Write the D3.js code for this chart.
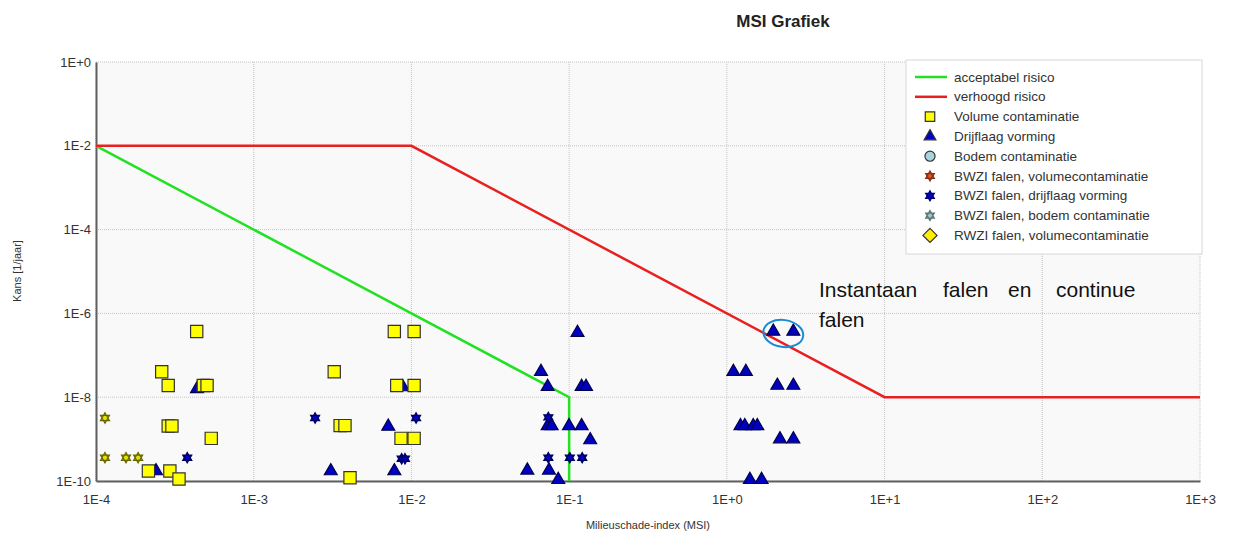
<!DOCTYPE html>
<html>
<head>
<meta charset="utf-8">
<script src="https://cdn.jsdelivr.net/npm/d3@7"></script>
<style>
  body { margin: 0; background: #fff; font-family: "Liberation Sans", Arial, sans-serif; }
  svg text { font-family: "Liberation Sans", Arial, sans-serif; }
</style>
</head>
<body>
<svg id="chart"></svg>
<script>
// data (MSI, kans per jaar)
const xTicks = [-4, -3, -2, -1, 0, 1, 2, 3];
const yTicks = [0, -2, -4, -6, -8, -10];

const acceptabel = [[1e-4, 1e-2], [1e-2, 1e-6], [1e-1, 1e-8], [1e-1, 1e-10]];
const verhoogd = [[1e-4, 1e-2], [1e-2, 1e-2], [1e1, 1e-8], [1e3, 1e-8]];

const volume = [
  [4.35e-4, 3.7e-7], [2.61e-4, 4.06e-8], [2.87e-4, 1.9e-8], [4.79e-4, 1.9e-8], [5.06e-4, 1.9e-8],
  [2.87e-4, 2.06e-9], [3.03e-4, 2.06e-9], [5.38e-4, 1.04e-9], [2.15e-4, 1.73e-10], [2.94e-4, 1.73e-10],
  [3.36e-4, 1.12e-10], [7.79e-3, 3.7e-7], [1.04e-2, 3.7e-7], [3.24e-3, 4.06e-8], [8.07e-3, 1.9e-8],
  [1.04e-2, 1.9e-8], [3.53e-3, 2.1e-9], [3.79e-3, 2.1e-9], [8.59e-3, 1.04e-9], [1.04e-2, 1.04e-9],
  [4.08e-3, 1.2e-10]
];

const drijflaag = [
  [4.37e-4, 1.57e-8], [2.4e-4, 1.73e-10], [3.08e-3, 1.73e-10], [7.13e-3, 2.0e-9], [8.81e-3, 1.75e-8],
  [7.79e-3, 1.73e-10], [0.113, 3.46e-7], [6.63e-2, 4.06e-8], [7.31e-2, 1.78e-8], [0.120, 1.78e-8],
  [0.128, 1.78e-8], [7.31e-2, 2.06e-9], [7.75e-2, 2.06e-9], [9.98e-2, 2.06e-9], [0.120, 2.06e-9],
  [0.136, 9.5e-10], [5.43e-2, 1.8e-10], [7.45e-2, 1.8e-10], [8.53e-2, 1.07e-10],
  [1.97, 3.7e-7], [2.64, 3.7e-7], [1.10, 4.06e-8], [1.32, 4.06e-8], [2.09, 1.9e-8], [2.64, 1.9e-8],
  [1.22, 2.06e-9], [1.30, 2.06e-9], [1.47, 2.06e-9], [1.56, 2.06e-9], [2.17, 1.0e-9], [2.64, 1.0e-9],
  [1.40, 1.07e-10], [1.66, 1.07e-10]
];

const bwziDrijflaag = [
  [3.79e-4, 3.6e-10], [2.45e-3, 3.19e-9], [1.07e-2, 3.19e-9], [8.67e-3, 3.4e-10], [9.1e-3, 3.4e-10],
  [7.38e-2, 3.3e-9], [7.38e-2, 3.6e-10], [0.101, 3.6e-10], [0.121, 3.6e-10]
];

const sterGeel = [[1.14e-4, 3.19e-9], [1.14e-4, 3.6e-10], [1.55e-4, 3.6e-10], [1.85e-4, 3.6e-10]];

const legendItems = [
  { label: "acceptabel risico", type: "line", color: "#22e022" },
  { label: "verhoogd risico", type: "line", color: "#e82020" },
  { label: "Volume contaminatie", type: "square", color: "#ffff00" },
  { label: "Drijflaag vorming", type: "triangle", color: "#0000c0" },
  { label: "Bodem contaminatie", type: "circle", color: "#a8d4dc" },
  { label: "BWZI falen, volumecontaminatie", type: "star", color: "#e05020" },
  { label: "BWZI falen, drijflaag vorming", type: "star", color: "#0000d0" },
  { label: "BWZI falen, bodem contaminatie", type: "star", color: "#a0c8cc" },
  { label: "RWZI falen, volumecontaminatie", type: "diamond", color: "#ffee00" }
];

const W = 1233, H = 536;
const svg = d3.select("#chart").attr("width", W).attr("height", H);

const x = d3.scaleLog().domain([1e-4, 1e3]).range([96, 1200]);
const y = d3.scaleLog().domain([1e-10, 1]).range([481, 62]);
const fmt = (e) => "1E" + (e >= 0 ? "+" : "") + e;

// plot background
svg.append("rect")
  .attr("x", x.range()[0]).attr("y", y.range()[1])
  .attr("width", x.range()[1] - x.range()[0]).attr("height", y.range()[0] - y.range()[1])
  .attr("fill", "#f9f9f9");

// grid
svg.append("g").selectAll("line").data(xTicks).enter().append("line")
  .attr("x1", (d) => x(10 ** d)).attr("x2", (d) => x(10 ** d))
  .attr("y1", 62).attr("y2", 481)
  .attr("stroke", "#c4c4c4").attr("stroke-dasharray", "1,1");
svg.append("g").selectAll("line").data(yTicks).enter().append("line")
  .attr("x1", 96).attr("x2", 1200)
  .attr("y1", (d) => y(10 ** d)).attr("y2", (d) => y(10 ** d))
  .attr("stroke", "#c4c4c4").attr("stroke-dasharray", "1,1");

// axes
const xAxis = svg.append("g").attr("transform", "translate(0,481)")
  .call(d3.axisBottom(x).tickValues(xTicks.map((d) => 10 ** d))
    .tickFormat((d) => fmt(Math.round(Math.log10(d)))).tickSize(0).tickPadding(14));
const yAxis = svg.append("g").attr("transform", "translate(96,0)")
  .call(d3.axisLeft(y).tickValues(yTicks.map((d) => 10 ** d))
    .tickFormat((d) => fmt(Math.round(Math.log10(d)))).tickSize(0).tickPadding(5));
[xAxis, yAxis].forEach((a) => {
  a.select(".domain").attr("stroke", "#606060").attr("stroke-width", 2);
  a.selectAll("text").attr("font-size", 13).attr("fill", "#333");
});

svg.append("text").attr("x", 648).attr("y", 529).attr("text-anchor", "middle")
  .attr("font-size", 11).attr("fill", "#333").text("Milieuschade-index (MSI)");
svg.append("text").attr("transform", "translate(21,271) rotate(-90)").attr("text-anchor", "middle")
  .attr("font-size", 11).attr("fill", "#333").text("Kans [1/jaar]");

svg.append("text").attr("x", 783).attr("y", 27).attr("text-anchor", "middle")
  .attr("font-size", 17).attr("font-weight", "bold").attr("fill", "#222").text("MSI Grafiek");

// risk lines
const line = d3.line().x((d) => x(d[0])).y((d) => y(d[1]));
svg.append("path").datum(acceptabel).attr("d", line)
  .attr("fill", "none").attr("stroke", "#22e022").attr("stroke-width", 2.5);
svg.append("path").datum(verhoogd).attr("d", line)
  .attr("fill", "none").attr("stroke", "#e82020").attr("stroke-width", 2.5);

// six-pointed star
const hexagram = {
  draw(ctx, size) {
    const r = Math.sqrt(size) * 0.75;
    for (let k = 0; k < 2; k++) {
      for (let i = 0; i < 3; i++) {
        const a = (Math.PI * 2 * i) / 3 + (k ? Math.PI / 2 : -Math.PI / 2);
        const px = r * Math.cos(a), py = r * Math.sin(a);
        if (i === 0) ctx.moveTo(px, py); else ctx.lineTo(px, py);
      }
      ctx.closePath();
    }
  }
};

// square turned on its point
const ruit = {
  draw(ctx, size) {
    const r = Math.sqrt(size / 2);
    ctx.moveTo(0, -r); ctx.lineTo(r, 0); ctx.lineTo(0, r); ctx.lineTo(-r, 0); ctx.closePath();
  }
};

const symbolTypes = {
  square: d3.symbolSquare, triangle: d3.symbolTriangle, circle: d3.symbolCircle, star: hexagram, diamond: ruit
};

const symbols = {
  square: d3.symbol().type(d3.symbolSquare).size(150),
  triangle: d3.symbol().type(d3.symbolTriangle).size(72),
  star: d3.symbol().type(hexagram).size(48)
};

function drawSeries(data, sym, fill, stroke) {
  svg.append("g").selectAll("path").data(data).enter().append("path")
    .attr("transform", (d) => `translate(${x(d[0])},${y(d[1])})`)
    .attr("d", symbols[sym]())
    .attr("fill", fill).attr("stroke", stroke).attr("stroke-width", 1.2);
}

drawSeries(drijflaag, "triangle", "#0000c0", "#000050");
drawSeries(volume, "square", "#ffff00", "#333");
drawSeries(sterGeel, "star", "#e8e000", "#666600");
drawSeries(bwziDrijflaag, "star", "#0000d0", "#000060");

// annotation
const ex = (x(1.97) + x(2.64)) / 2, ey = y(3.7e-7) + 2;
svg.append("ellipse").attr("cx", ex).attr("cy", ey).attr("rx", 20).attr("ry", 13.5)
  .attr("transform", `rotate(8,${ex},${ey})`)
  .attr("fill", "none").attr("stroke", "#1a8ad4").attr("stroke-width", 2);

const noteWords = [["Instantaan", 819], ["falen", 943], ["en", 1008], ["continue", 1056]];
svg.append("g").selectAll("text").data(noteWords).enter().append("text")
  .attr("x", (d) => d[1]).attr("y", 297).attr("font-size", 21).attr("fill", "#111").text((d) => d[0]);
svg.append("text").attr("x", 819).attr("y", 327).attr("font-size", 21).attr("fill", "#111").text("falen");

// legend
const legendSize = { square: 90, triangle: 60, circle: 80, star: 45, diamond: 100 };
const lg = svg.append("g").attr("transform", "translate(906,60)");
lg.append("rect").attr("width", 296).attr("height", 194)
  .attr("fill", "#fff").attr("stroke", "#d8d8d8");
const rows = lg.selectAll("g").data(legendItems).enter().append("g")
  .attr("transform", (d, i) => `translate(0,${17 + i * 19.8})`);
rows.filter((d) => d.type === "line").append("line")
  .attr("x1", 9).attr("x2", 41).attr("stroke", (d) => d.color).attr("stroke-width", 2.5);
rows.filter((d) => d.type !== "line").append("path")
  .attr("transform", "translate(24,0)")
  .attr("d", (d) => d3.symbol().type(symbolTypes[d.type]).size(legendSize[d.type])())
  .attr("fill", (d) => d.color)
  .attr("stroke", (d) => (d.type === "star" ? d3.color(d.color).darker(1.5) : "#333"))
  .attr("stroke-width", 1.2);
rows.append("text").attr("x", 48).attr("y", 4.5).attr("font-size", 13.5).attr("fill", "#333")
  .text((d) => d.label);
</script>
</body>
</html>
